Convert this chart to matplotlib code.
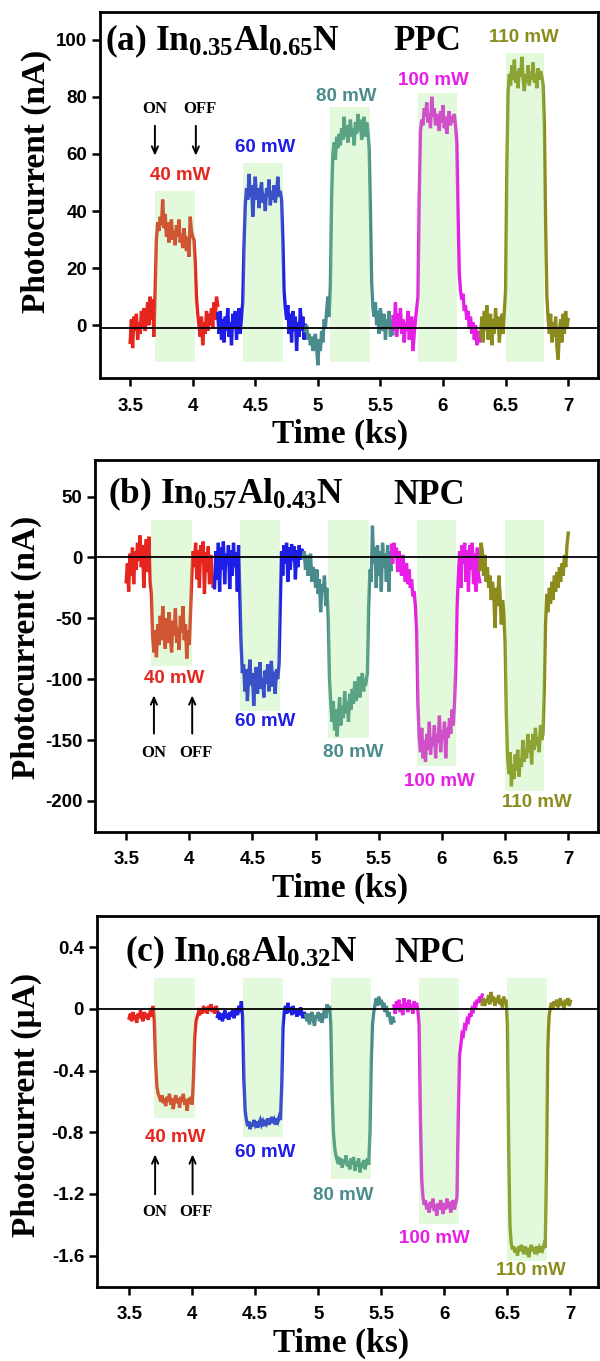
import numpy as np
import matplotlib
matplotlib.use("Agg")
import matplotlib.pyplot as plt

plt.rcParams['mathtext.fontset'] = 'custom'
plt.rcParams['mathtext.rm'] = 'Liberation Serif:bold'
plt.rcParams['mathtext.it'] = 'Liberation Serif:bold'
plt.rcParams['mathtext.bf'] = 'Liberation Serif:bold'

SERIF = 'Liberation Serif'
SANS = 'Liberation Sans'

# each segment: 0.01 ks sampling, 0.7 ks long
seg_start = [3.5, 4.2, 4.9, 5.6, 6.3]
powers = ['40 mW', '60 mW', '80 mW', '100 mW', '110 mW']
colors = ['#e6261e', '#1e1ee6', '#4a8c8c', '#e61ee6', '#8c8c1e']

# light ON windows (ks)
on_start = [3.70, 4.40, 5.10, 5.80, 6.50]
on_end = [4.02, 4.72, 5.42, 6.115, 6.81]

# ---------------- (a) In0.35Al0.65N, nA ----------------
a_40 = [-6, 2, -8, 3, -2, 4, -5, 1, -3, 5, -1, 6, -2, 3, 8, 0, 10, 2, 9, -4,
        12, 30, 36, 33, 38, 35, 44, 34, 39, 31, 36, 29, 34, 37, 30, 33, 28, 35, 31, 37,
        29, 32, 27, 34, 30, 26, 31, 24, 38, 33, 31,
        30, 22, 10, 4, 0, -4, 3, -7, 1, -3, 5, -2, 4, 0, 6, -1, 8, 2, 10, 7]
a_60 = [4, -3, 5, -5, 2, -6, 3, -2, 6, -4, 1, -7, 4, -1, 5, -5, 2, 6, -3, 3,
        8, 28, 42, 48, 44, 53, 45, 49, 38, 46, 52, 44, 48, 41, 47, 50, 43, 46, 40, 48,
        45, 51, 42, 47, 44, 49, 43, 46, 52, 45, 47,
        44, 30, 12, 6, 2, 7, -3, 4, -6, 5, -2, 3, -9, 1, -4, 6, -2, 3, -5, 0]
a_80 = [-2, 0, -5, -3, -7, -4, -9, -6, -3, -8, -14, -5, -9, -2, -6, 2, -1, 5, 10, 3,
        14, 45, 60, 64, 58, 66, 62, 67, 63, 69, 65, 73, 66, 70, 64, 68, 72, 66, 69, 63,
        71, 67, 74, 68, 72, 65, 70, 73, 66, 71, 68,
        62, 40, 15, 6, 3, 8, 0, 5, -3, 6, 1, -2, 4, -5, 2, -1, 5, -4, 2, -3]
a_100 = [3, -2, 8, -4, 4, -1, 6, -3, 2, -6, 1, -2, 5, -5, 0, 3, -9, -3, 2, 6,
         10, 45, 68, 72, 70, 76, 73, 78, 71, 74, 69, 80, 73, 76, 70, 74, 72, 68, 75, 71,
         77, 69, 73, 67, 72, 75, 70, 73, 71, 74, 70,
         64, 40, 18, 12, 9, 11, 5, 7, 2, 5, -1, 3, -3, 1, -5, 0, -7, -2, -6, -3]
a_110 = [-4, 3, -6, 5, -2, 7, -5, 1, 4, -7, 2, -3, 6, -1, 3, -6, 0, 4, -3, 5,
         12, 55, 82, 88, 84, 91, 86, 93, 85, 89, 83, 90, 87, 94, 86, 82, 88, 85, 91, 84,
         89, 86, 92, 85, 88, 83, 90, 86, 89, 87, 84,
         70, 35, 10, 2, -3, 4, -6, 1, -4, 3, -8, -12, -2, 2, -6, 4, -3, 5, -1, 2]
a_top = [47, 56.7, 76.4, 81.3, 95.4]
a_bot = -13
a_lab_x = [3.90, 4.583, 5.224, 5.92, 6.65]
a_lab_y = [52.5, 62.4, 80, 85.7, 100.6]

# ---------------- (b) In0.57Al0.43N, nA ----------------
b_40 = [-20, -5, -28, 3, -15, 8, -22, 5, -10, 12, -3, 18, -8, 10, -25, 2, 15, -12, 17, -20,
        -30, -65, -78, -60, -82, -55, -72, -48, -68, -40, -62, -75, -50, -70, -45, -66, -78, -52,
        -64, -42, -70, -58, -76, -48, -62, -40, -68, -55, -83, -60, -72,
        -45, -15, 5, -8, 12, -18, 6, -25, 10, -5, 13, -30, 4, -12, 9, -22, 2, -15, -25, -18]
b_60 = [-25, 5, -18, 12, -28, 8, -10, 13, -22, 3, -5, 10, -26, 6, -15, 12, -8, 4, -28, 10,
        -30, -70, -95, -88, -110, -92, -118, -98, -84, -105, -95, -122, -100, -90, -112, -96,
        -86, -108, -99, -115, -93, -104, -88, -110, -97, -85, -106, -94, -112, -92, -100,
        -88, -40, 5, -15, 10, -5, 12, -20, 8, -10, 11, -3, 9, -18, 6, -8, 10, -2, 7, 3]
b_80 = [0, 5, -10, 2, -15, -5, 3, -20, -8, -12, -25, -10, -30, -18, -45, -22, -28, -15, -40, -25,
        -50, -100, -120, -135, -118, -142, -125, -147, -130, -115, -138, -122, -132, -110, -128,
        -118, -135, -112, -125, -108, -120, -102, -118, -110, -98, -115, -105, -95, -110, -100, -102,
        -95, -40, -10, -20, 26, -5, 8, -25, 10, -15, 5, -28, 12, -8, 3, -20, 10, -28, 5, -10]
b_100 = [10, -5, 12, 0, 8, -12, 5, -3, -15, 2, -8, -20, -5, -22, -10, -25, -18, -32, -28, -40,
         -60, -120, -148, -160, -140, -165, -150, -168, -145, -158, -135, -162, -148, -155, -138,
         -165, -145, -152, -130, -160, -142, -150, -135, -165, -140, -148, -132, -145, -125, -138, -118,
         -90, -40, -15, 5, -25, 10, -5, 12, -20, 6, -28, 10, -10, 12, -22, 3, -28, 8, -15, -20]
b_110 = [-10, 12, 5, -15, 2, -20, -8, -25, -15, -35, -20, -30, -58, -25, -40, -15, -30, -55, -35, -45,
         -70, -130, -165, -178, -160, -188, -170, -182, -162, -175, -158, -180, -165, -172, -150,
         -168, -158, -165, -145, -160, -150, -170, -145, -158, -140, -155, -148, -160, -138, -150, -145,
         -110, -55, -30, -45, -25, -38, -20, -35, -15, -28, -12, -25, -8, -20, -5, -15, 2, -8, 10, 20]
b_top = 30.4
b_bot = [-89.6, -126.5, -148.7, -171, -191.7]
b_lab_x = [3.884, 4.598, 5.30, 5.98, 6.75]
b_lab_y = [-99.7, -134.7, -160, -184, -201]

# ---------------- (c) In0.68Al0.32N, uA ----------------
c_40 = [-0.06, -0.03, -0.08, -0.02, -0.07, -0.04, -0.09, -0.03, -0.06, -0.01, -0.05, -0.08, -0.02,
        -0.06, -0.03, -0.07, -0.04, -0.01, -0.05, 0.02,
        -0.08, -0.35, -0.50, -0.55, -0.57, -0.60, -0.56, -0.61, -0.58, -0.63, -0.57, -0.60, -0.55,
        -0.62, -0.58, -0.65, -0.59, -0.56, -0.61, -0.58, -0.64, -0.57, -0.60, -0.55, -0.62, -0.59,
        -0.66, -0.58, -0.61, -0.57, -0.62,
        -0.45, -0.18, -0.08, -0.05, -0.02, -0.04, 0.0, -0.03, 0.02, -0.02, 0.01, -0.03, 0.02, -0.01,
        0.03, -0.02, 0.01, -0.03, 0.02, -0.01]
c_60 = [-0.05, -0.02, -0.07, -0.03, -0.08, -0.04, -0.01, -0.06, -0.03, -0.07, -0.02, -0.05, -0.01,
        -0.06, -0.03, 0.0, -0.04, 0.02, -0.02, 0.05,
        -0.05, -0.45, -0.66, -0.72, -0.76, -0.73, -0.78, -0.74, -0.76, -0.72, -0.75, -0.73, -0.77,
        -0.74, -0.72, -0.75, -0.73, -0.76, -0.72, -0.74, -0.71, -0.75, -0.73, -0.70, -0.74, -0.72,
        -0.75, -0.71, -0.73, -0.70, -0.72,
        -0.50, -0.12, -0.02, 0.02, -0.03, 0.04, -0.02, 0.01, -0.04, 0.02, -0.03, 0.0, -0.05, -0.01,
        -0.04, 0.01, -0.03, -0.06, -0.02, -0.05]
c_80 = [-0.04, -0.08, -0.03, -0.10, -0.05, -0.02, -0.07, -0.11, -0.04, -0.06, -0.02, -0.08, -0.03,
        -0.09, -0.04, 0.0, -0.06, 0.03, -0.02, 0.02,
        -0.10, -0.55, -0.80, -0.90, -0.95, -0.98, -0.96, -1.01, -0.97, -1.03, -0.98, -1.00, -0.95,
        -1.02, -0.99, -1.04, -0.97, -1.01, -0.96, -1.05, -0.99, -1.02, -0.97, -1.06, -1.00, -1.03,
        -0.98, -1.04, -1.00, -0.97, -1.01,
        -0.80, -0.35, -0.10, -0.02, 0.03, 0.07, 0.02, 0.08, 0.03, 0.06, 0.01, 0.04, -0.02, 0.02,
        -0.05, -0.02, -0.07, -0.10, -0.05, -0.08]
c_100 = [0.02, -0.03, 0.05, 0.0, 0.06, -0.02, 0.03, -0.04, 0.07, 0.01, 0.04, -0.02, 0.06, 0.0,
         0.03, -0.03, 0.05, 0.01, 0.04, -0.01,
         -0.10, -0.70, -1.10, -1.22, -1.27, -1.24, -1.30, -1.26, -1.32, -1.25, -1.29, -1.23, -1.31,
         -1.27, -1.34, -1.26, -1.30, -1.24, -1.28, -1.33, -1.26, -1.30, -1.23, -1.29, -1.25, -1.32,
         -1.27, -1.24, -1.30, -1.26, -1.22,
         -0.70, -0.30, -0.24, -0.16, -0.17, -0.11, -0.12, -0.07, -0.08, -0.03, -0.05, 0.0, -0.01,
         0.03, 0.02, 0.06, 0.04, 0.08, 0.06, 0.09]
c_110 = [0.03, 0.07, 0.02, 0.06, 0.04, 0.09, 0.03, 0.11, 0.05, 0.08, 0.02, 0.07, 0.04, 0.09, 0.03,
         0.06, 0.01, 0.08, 0.04, 0.06,
         -0.10, -0.90, -1.40, -1.52, -1.56, -1.54, -1.58, -1.55, -1.60, -1.54, -1.57, -1.53, -1.56,
         -1.59, -1.54, -1.57, -1.55, -1.61, -1.56, -1.53, -1.57, -1.55, -1.59, -1.54, -1.57, -1.55,
         -1.58, -1.54, -1.56, -1.53, -1.55,
         -1.00, -0.25, -0.05, 0.01, 0.04, 0.0, 0.05, 0.02, 0.06, 0.01, 0.04, 0.07, 0.02, 0.05, 0.0,
         0.06, 0.03, 0.07, 0.02, 0.05]
c_top = 0.2
c_bot = [-0.705, -0.83, -1.105, -1.394, -1.634]
c_lab_x = [3.866, 4.58, 5.20, 5.92, 6.69]
c_lab_y = [-0.832, -0.93, -1.213, -1.487, -1.693]

xticks = [3.5, 4, 4.5, 5, 5.5, 6, 6.5, 7]
xticklabels = ['3.5', '4', '4.5', '5', '5.5', '6', '6.5', '7']

panels = [
    dict(pos=[0.166, 0.722, 0.831, 0.269], xlim=(3.256, 7.24), ylim=(-18.6, 109.6),
         series=[a_40, a_60, a_80, a_100, a_110],
         yticks=[0, 20, 40, 60, 80, 100], yticklabels=['0', '20', '40', '60', '80', '100'],
         zero=-1, tops=[t for t in a_top], bots=[a_bot] * 5,
         lab_x=a_lab_x, lab_y=a_lab_y,
         title=r'(a) In$_{0.35}$Al$_{0.65}$N', tag='PPC', tx=0.011, tyy=0.896, tagx=0.59,
         on_x=3.698, off_x=4.025, arr_tail=70.8, arr_head=58.4, txt_y=75.6,
         ylabel='Photocurrent (nA)', ylab_xy=(36.4, 181), xlab_xy=(339.7, 434)),
    dict(pos=[0.158, 0.389, 0.839, 0.2731], xlim=(3.252, 7.237), ylim=(-225.2, 80.1),
         series=[b_40, b_60, b_80, b_100, b_110],
         yticks=[-200, -150, -100, -50, 0, 50],
         yticklabels=['-200', '-150', '-100', '-50', '0', '50'],
         zero=0, tops=[b_top] * 5, bots=b_bot,
         lab_x=b_lab_x, lab_y=b_lab_y,
         title=r'(b) In$_{0.57}$Al$_{0.43}$N', tag='NPC', tx=0.026, tyy=0.882, tagx=0.593,
         on_x=3.72, off_x=4.023, arr_tail=-147, arr_head=-111, txt_y=-160.7,
         ylabel='Photocurrent (nA)', ylab_xy=(26.8, 647), xlab_xy=(339.7, 888)),
    dict(pos=[0.161, 0.0544, 0.836, 0.2728], xlim=(3.242, 7.22), ylim=(-1.803, 0.605),
         series=[c_40, c_60, c_80, c_100, c_110],
         yticks=[-1.6, -1.2, -0.8, -0.4, 0, 0.4],
         yticklabels=['-1.6', '-1.2', '-0.8', '-0.4', '0', '0.4'],
         zero=0, tops=[c_top] * 5, bots=c_bot,
         lab_x=c_lab_x, lab_y=c_lab_y,
         title=r'(c) In$_{0.68}$Al$_{0.32}$N', tag='NPC', tx=0.056, tyy=0.876, tagx=0.593,
         on_x=3.706, off_x=4.003, arr_tail=-1.22, arr_head=-0.925, txt_y=-1.315,
         ylabel='Photocurrent (\u00b5A)', ylab_xy=(26.8, 1105), xlab_xy=(341, 1343)),
]

W, H = 600, 1361
fig = plt.figure(figsize=(W / 100, H / 100), dpi=100)

for p in panels:
    ax = fig.add_axes(p['pos'])
    for k in range(5):
        y = p['series'][k]
        t = seg_start[k] + 0.01 * np.arange(len(y))
        ax.plot(t, y, color=colors[k], lw=2.4, zorder=2, solid_joinstyle='miter')
        ax.fill_between([on_start[k], on_end[k]], p['bots'][k], p['tops'][k],
                        color='#90e874', alpha=0.25, lw=0, zorder=3)
        ax.text(p['lab_x'][k], p['lab_y'][k], powers[k], color=colors[k],
                fontfamily=SANS, fontweight='bold', fontsize=13.5,
                ha='center', va='center', zorder=5)
    ax.axhline(p['zero'], color='black', lw=1.3, zorder=4)

    # ON / OFF arrows
    for xx, lab in [(p['on_x'], 'ON'), (p['off_x'], 'OFF')]:
        ax.annotate('', xy=(xx, p['arr_head']), xytext=(xx, p['arr_tail']),
                    arrowprops=dict(arrowstyle='->,head_length=0.5,head_width=0.22',
                                    color='black', lw=1.4), zorder=5)
    ax.text(p['on_x'], p['txt_y'], 'ON', fontfamily=SERIF, fontweight='bold',
            fontsize=12, ha='center', va='center')
    ax.text(p['off_x'] + 0.03, p['txt_y'], 'OFF', fontfamily=SERIF, fontweight='bold',
            fontsize=12, ha='center', va='center')

    ax.text(p['tx'], p['tyy'], p['title'], transform=ax.transAxes, fontfamily=SERIF,
            fontweight='bold', fontsize=25.5, ha='left', va='baseline')
    ax.text(p['tagx'], p['tyy'], p['tag'], transform=ax.transAxes, fontfamily=SERIF,
            fontweight='bold', fontsize=25, ha='left', va='baseline')

    ax.set_xlim(*p['xlim'])
    ax.set_ylim(*p['ylim'])
    ax.set_xticks(xticks)
    ax.set_xticklabels(xticklabels)
    ax.set_yticks(p['yticks'])
    ax.set_yticklabels(p['yticklabels'])
    for lab in ax.get_xticklabels() + ax.get_yticklabels():
        lab.set_fontfamily(SANS)
        lab.set_fontweight('bold')
        lab.set_fontsize(13.5)
    ax.tick_params(axis='both', direction='out', length=6, width=1.8)
    ax.tick_params(axis='x', pad=8)
    ax.tick_params(axis='y', pad=3)
    for s in ax.spines.values():
        s.set_linewidth(2.0)

    fig.text(p['ylab_xy'][0] / W, 1 - p['ylab_xy'][1] / H, p['ylabel'], rotation=90,
             fontfamily=SERIF, fontweight='bold', fontsize=24, ha='center', va='center')
    fig.text(p['xlab_xy'][0] / W, 1 - p['xlab_xy'][1] / H, 'Time (ks)',
             fontfamily=SERIF, fontweight='bold', fontsize=24, ha='center', va='center')

fig.savefig('out.png', dpi=100)
